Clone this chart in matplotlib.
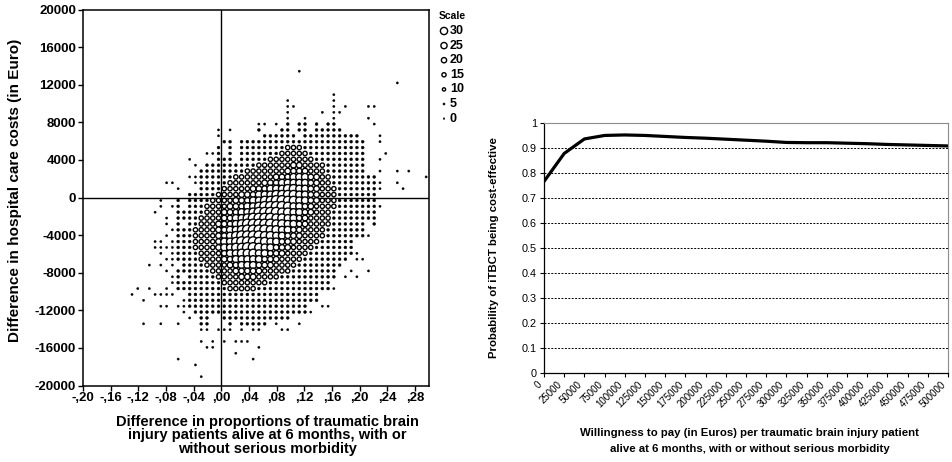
# %%
import matplotlib
matplotlib.use("Agg")
import matplotlib.pyplot as plt
import numpy as np

plt.rcParams["font.family"] = ["Liberation Sans", "DejaVu Sans"]

# %% data
# binned scatter of bootstrap replications (left panel)
# one string per cost bin (top row = highest cost), one char per effect bin
# "." = empty bin, digit d = about 5*d replications in that bin
effect_bins = (np.arange(-17, 36) + 0.5) / 120      # effect bin centres
cost_bins = (np.arange(21, -32, -1) + 0.5) * 625     # cost bin centres (Euro)
grid_rows = [
    ".......|..........|..........|...0......|..........|......",
    ".......|..........|..........|..........|..........|......",
    ".......|..........|..........|..........|..........|0.....",
    ".......|..........|..........|..........|..........|......",
    ".......|..........|..........|.........0|..........|......",
    ".......|..........|..........|.0.......0|..........|......",
    ".......|..........|..........|.00......0|.0...00...|......",
    ".......|..........|..........|.0.....0.0|0.........|......",
    ".......|..........|..........|.0..0....0|.....0....|......",
    ".......|..........|......00.0|.1.11.1.11|......0...|......",
    ".......|.........0|.0....1...|11.11.1111|1.........|......",
    ".......|.........0|.......111|111.111111|1111...0..|......",
    ".......|..........|11.1111111|1111111111|11111..0..|......",
    ".......|.........1|.1.1111111|1222111111|11111.....|......",
    ".......|.......001|.1.1111111|2222211111|11111...0.|......",
    ".......|....0....1|11.1111122|2222221111|11111..0..|......",
    ".......|.....0.111|1111112222|2233222211|11111.....|......",
    ".......|......1111|1111222222|2333322211|11111..0..|0.0...",
    ".......|....001111|1122222223|3344433221|1111111...|.....0",
    ".......|00...01111|1222222333|4444433221|11111110..|0.....",
    ".......|..0...1111|2222233344|4554433222|11111110..|.0....",
    ".......|....111112|2223334445|5554433222|1111111...|......",
    "......0|..1.111122|2233344556|6554433222|1111111...|......",
    "......0|.01.111222|2333445666|6544332222|11111110..|......",
    ".....0.|..11111222|3334456666|5544332221|1111111...|......",
    ".......|0.11112222|3344566665|5443322221|1111111...|......",
    ".......|0.1.112223|3345666665|5443322221|11111.1...|......",
    ".......|.011122223|3445666655|4433222211|11111.....|......",
    ".......|0.11122223|3456666554|4333222211|111110....|......",
    ".....00|.011122223|4456665544|3332222111|111.......|......",
    ".....00|0011122223|4455665443|3322221111|111.......|......",
    "......0|.011112222|3445554433|3222211111|1110......|......",
    ".......|0011112222|3344444333|2222111111|11.00.....|......",
    "....0.0|.0.1111222|2334443332|2221111111|1.........|......",
    ".......|0.11111122|2233333222|2211111111|..0..0....|......",
    ".......|.01.111112|2223332222|1111111111|.0.0......|......",
    ".......|.011111111|2222222211|111111111.|..........|......",
    "..0.0..|0.11111111|1222221111|1111111110|..........|......",
    ".0...00|00..111111|1111111111|1111111...|..........|......",
    "...0...|...0111111|1111111111|1111111...|..........|......",
    "......0|0.00111111|1111111111|11111..00.|..........|......",
    ".......|...0.11111|1111111111|111110....|..........|......",
    ".......|....0.11..|1111111111|11........|..........|......",
    "...0..0|..0...11..|.1.11111.0|...0......|..........|......",
    ".......|......00.0|00.0.00...|00........|..........|......",
    ".......|..........|..........|..........|..........|......",
    ".......|......0.0.|0.000.....|..........|..........|......",
    ".......|.......00.|......0...|..........|..........|......",
    ".......|..........|..0.......|..........|..........|......",
    ".......|..0.......|.....0....|..........|..........|......",
    ".......|.....0....|..........|..........|..........|......",
    ".......|..........|..........|..........|..........|......",
    ".......|......0...|..........|..........|..........|......",
]
scale_counts = [30, 25, 20, 15, 10, 5, 0]

x_ticks = [-0.20, -0.16, -0.12, -0.08, -0.04, 0.00, 0.04, 0.08, 0.12, 0.16, 0.20, 0.24, 0.28]
x_tick_labels = ["-,20", "-,16", "-,12", "-,08", "-,04", ",00", ",04", ",08",
                 ",12", ",16", ",20", ",24", ",28"]
y_ticks = [20000, 16000, 12000, 8000, 4000, 0, -4000, -8000, -12000, -16000, -20000]

# acceptability curve (right panel)
wtp = [0, 25000, 50000, 75000, 100000, 125000, 150000, 175000, 200000, 225000,
       250000, 275000, 300000, 325000, 350000, 375000, 400000, 425000, 450000,
       475000, 500000]
prob = [0.765, 0.877, 0.935, 0.949, 0.951, 0.949, 0.945, 0.941, 0.938, 0.934,
        0.930, 0.926, 0.921, 0.920, 0.920, 0.918, 0.916, 0.913, 0.911, 0.909,
        0.907]

# %% unpack grid
xs, ys, cs = [], [], []
for r, row in enumerate(grid_rows):
    cells = row.replace("|", "")
    assert len(cells) == len(effect_bins), ("bad row", r, len(cells))
    for c, ch in enumerate(cells):
        if ch != ".":
            xs.append(effect_bins[c])
            ys.append(cost_bins[r])
            cs.append(5 * int(ch))

# marker diameter in pixels for each count
DIAM_PX = {0: 2.2, 5: 2.9, 10: 4.3, 15: 5.6, 20: 7.0, 25: 8.3, 30: 9.6}


def draw_bins(axis, x, y, counts, scale=1.0, **kw):
    counts = np.asarray(counts)
    filled = counts < 10
    s = np.array([(DIAM_PX[n] * scale * 0.72) ** 2 for n in counts])
    x, y = np.asarray(x), np.asarray(y)
    axis.scatter(x[filled], y[filled], s=s[filled], c="black", edgecolors="black",
                 linewidths=0.3, **kw)
    axis.scatter(x[~filled], y[~filled], s=s[~filled], c="white",
                 edgecolors="black", linewidths=1.0, **kw)


W, H = 952, 462
fig = plt.figure(figsize=(W / 100, H / 100), dpi=100)

# %% left panel
ax = fig.add_axes([83 / W, 1 - 385.5 / H, 346 / W, 376 / H])
ax.axhline(0, color="black", lw=1.0, zorder=1)
ax.axvline(0, color="black", lw=1.0, zorder=1)
draw_bins(ax, xs, ys, cs, zorder=2)
ax.set_xlim(-0.20, 0.30)
ax.set_ylim(-20000, 20000)
ax.set_xticks(x_ticks)
ax.set_xticklabels(x_tick_labels, fontsize=9.5, fontweight="bold")
ax.set_yticks(y_ticks)
ax.set_yticklabels([str(v) for v in y_ticks], fontsize=9.5, fontweight="bold")
ax.tick_params(direction="out", length=3.5, width=1, pad=1.5)
for sp in ax.spines.values():
    sp.set_linewidth(1.1)

fig.text(15 / W, 1 - 190 / H, "Difference in hospital care costs (in Euro)",
         rotation=90, ha="center", va="center", fontsize=11, fontweight="bold")
fig.text(267 / W, 1 - 415 / H,
         "Difference in proportions of traumatic brain\n"
         "injury patients alive at 6 months, with or\n"
         "without serious morbidity",
         ha="center", va="top", fontsize=10.5, fontweight="bold", linespacing=0.95)

# size legend
fig.text(452 / W, 1 - 16 / H, "Scale", ha="center", va="center",
         fontsize=7.5, fontweight="bold")
leg_y = [1 - (31 + 14.6 * i) / H for i in range(len(scale_counts))]
leg_ax = fig.add_axes([0, 0, 1, 1], facecolor="none")
leg_ax.set_xlim(0, 1)
leg_ax.set_ylim(0, 1)
leg_ax.axis("off")
draw_bins(leg_ax, [444 / W] * len(scale_counts), leg_y, scale_counts, scale=0.75)
for n, yy in zip(scale_counts, leg_y):
    leg_ax.text(450 / W, yy, str(n), ha="left", va="center", fontsize=9,
                fontweight="bold")

# %% right panel
ax2 = fig.add_axes([544 / W, 1 - 372.7 / H, 404 / W, 250 / H])
ax2.plot(wtp, prob, color="black", lw=2.3, zorder=3)
ax2.set_xlim(0, 500000)
ax2.set_ylim(0, 1)
ax2.set_yticks(np.arange(0, 11) / 10)
ax2.set_yticklabels(["0", "0.1", "0.2", "0.3", "0.4", "0.5", "0.6", "0.7", "0.8",
                     "0.9", "1"], fontsize=7.8)
ax2.set_xticks(wtp)
ax2.set_xticklabels([str(v) for v in wtp], fontsize=7, rotation=45,
                    ha="right", va="top")
ax2.tick_params(direction="out", length=3, width=0.8, pad=2)
ax2.yaxis.grid(True, color="black", lw=0.7, linestyle=(0, (2.0, 1.5)))
ax2.set_axisbelow(True)
for side in ["top", "right"]:
    ax2.spines[side].set_color("0.55")
    ax2.spines[side].set_linewidth(0.8)
for side in ["left", "bottom"]:
    ax2.spines[side].set_linewidth(0.9)

fig.text(494 / W, 1 - 248 / H, "Probability of iTBCT being cost-effective",
         rotation=90, ha="center", va="center", fontsize=8.2, fontweight="bold")
fig.text(750 / W, 1 - 428 / H,
         "Willingness to pay (in Euros) per traumatic brain injury patient\n"
         "alive at 6 months, with or without serious morbidity",
         ha="center", va="top", fontsize=8.2, fontweight="bold", linespacing=1.75)

fig.savefig("out.png", dpi=100)
